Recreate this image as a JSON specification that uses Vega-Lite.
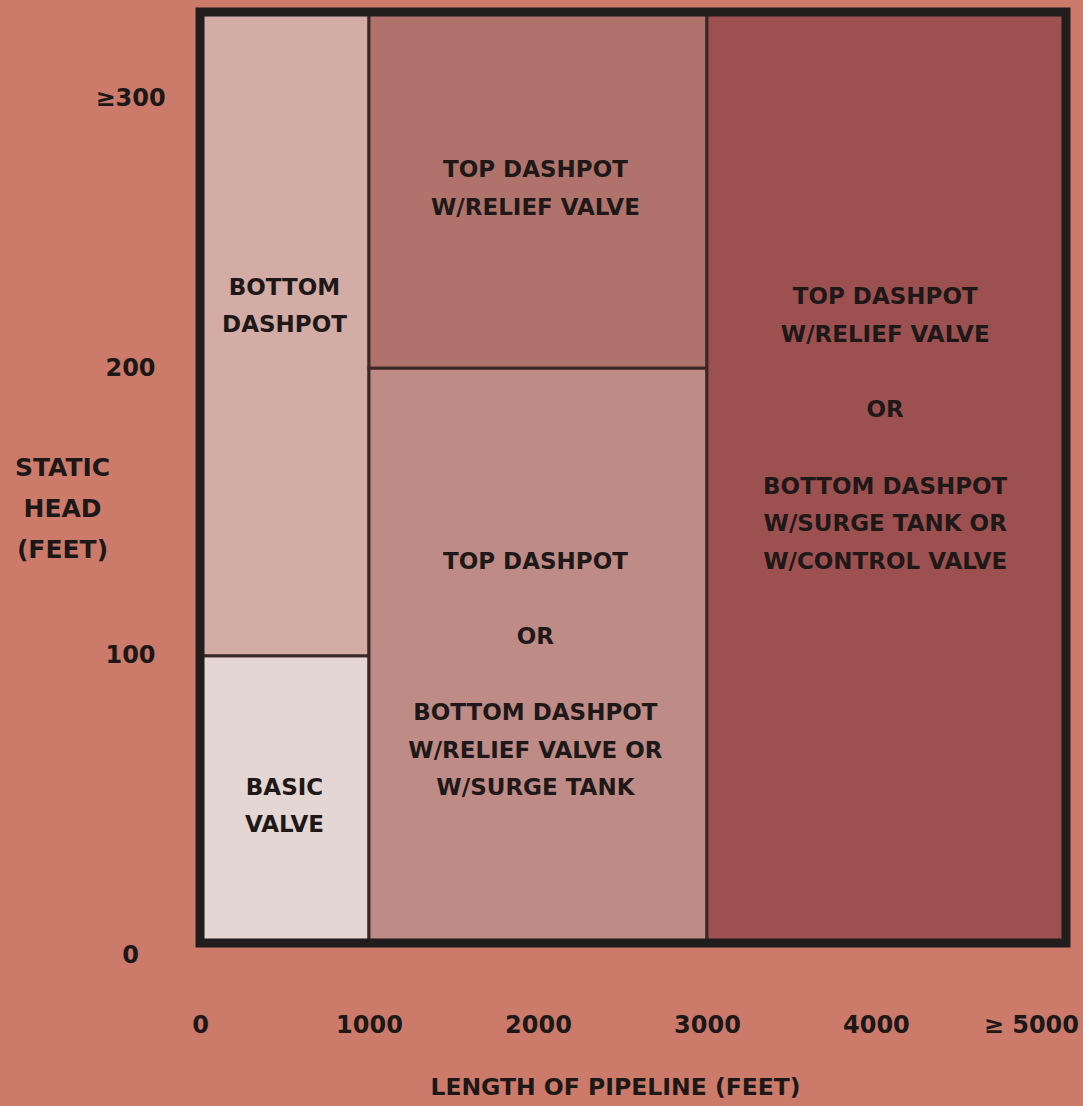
{
  "$schema": "https://vega.github.io/schema/vega-lite/v6.json",
  "width": 866,
  "height": 931,
  "autosize": "none",
  "padding": {"left": 200, "top": 12, "right": 17, "bottom": 163},
  "background": "#cc7a6a",
  "config": {
    "view": {"stroke": null},
    "font": "DejaVu Sans",
    "axis": {
      "domain": false, "ticks": false, "tickSize": 0, "grid": false,
      "labelFont": "DejaVu Sans", "labelFontWeight": "bold", "labelFontSize": 24, "labelColor": "#1c1818",
      "titleFont": "DejaVu Sans", "titleFontWeight": "bold", "titleColor": "#1c1818"
    }
  },
  "datasets": {
    "regions": [
      {"region": "Basic valve", "x": 0, "x2": 1000, "y": 0, "y2": 100},
      {"region": "Bottom dashpot", "x": 0, "x2": 1000, "y": 100, "y2": 324},
      {"region": "Top dashpot w/relief valve", "x": 1000, "x2": 3000, "y": 200, "y2": 324},
      {"region": "Top dashpot or bottom dashpot w/relief valve or surge tank", "x": 1000, "x2": 3000, "y": 0, "y2": 200},
      {"region": "Top dashpot w/relief valve or bottom dashpot w/surge tank or control valve", "x": 3000, "x2": 5125, "y": 0, "y2": 324}
    ],
    "labels": [
      {"lx": 500, "ly": 228, "lines": ["BOTTOM", "DASHPOT"]},
      {"lx": 500, "ly": 54, "lines": ["BASIC", "VALVE"]},
      {"lx": 1985, "ly": 269, "lines": ["TOP DASHPOT", "W/RELIEF VALVE"]},
      {"lx": 1985, "ly": 132.6, "lines": ["TOP DASHPOT"]},
      {"lx": 1985, "ly": 106.5, "lines": ["OR"]},
      {"lx": 1985, "ly": 80, "lines": ["BOTTOM DASHPOT", "W/RELIEF VALVE OR", "W/SURGE TANK"]},
      {"lx": 4055, "ly": 224.8, "lines": ["TOP DASHPOT", "W/RELIEF VALVE"]},
      {"lx": 4055, "ly": 185.5, "lines": ["OR"]},
      {"lx": 4055, "ly": 158.7, "lines": ["BOTTOM DASHPOT", "W/SURGE TANK OR", "W/CONTROL VALVE"]}
    ],
    "frame": [{"x": 0, "x2": 5125, "y": 0, "y2": 324}]
  },
  "layer": [
    {
      "data": {"name": "regions"},
      "mark": {"type": "rect", "stroke": "#3a2826", "strokeWidth": 3},
      "encoding": {
        "x": {
          "field": "x", "type": "quantitative",
          "scale": {"domain": [0, 5125], "nice": false, "zero": false},
          "axis": {
            "values": [0, 1000, 2000, 3000, 4000, 5000],
            "format": "d",
            "labelExpr": "datum.value == 5000 ? '≥ 5000' : datum.label",
            "labelAlign": "center",
            "labelBaseline": "middle",
            "labelPadding": 82,
            "labelFlush": false,
            "labelOverlap": false,
            "labelOffset": {"condition": {"test": "datum.value == 5000", "value": -14}, "value": 0},
            "title": "LENGTH OF PIPELINE (FEET)",
            "titleFontSize": 23.5,
            "titleX": 415,
            "titleY": 144,
            "titleAlign": "center",
            "titleBaseline": "middle"
          }
        },
        "x2": {"field": "x2"},
        "y": {
          "field": "y", "type": "quantitative",
          "scale": {"domain": [0, 324], "nice": false, "zero": false},
          "axis": {
            "values": [0, 100, 200, 300],
            "format": "d",
            "labelExpr": "datum.value == 300 ? '≥300' : datum.label",
            "labelAlign": "center",
            "labelBaseline": "middle",
            "labelPadding": 70,
            "labelFlush": false,
            "labelOverlap": false,
            "labelOffset": {"condition": [{"test": "datum.value == 300", "value": 18}, {"test": "datum.value == 0", "value": 12}], "value": 0},
            "title": ["STATIC", "HEAD", "(FEET)"],
            "titleFontSize": 25,
            "titleAngle": 0,
            "titleAlign": "center",
            "titleBaseline": "middle",
            "titleLineHeight": 41,
            "titleX": -138,
            "titleY": 455
          }
        },
        "y2": {"field": "y2"},
        "color": {
          "field": "region", "type": "nominal", "legend": null,
          "scale": {
            "domain": [
              "Basic valve",
              "Bottom dashpot",
              "Top dashpot w/relief valve",
              "Top dashpot or bottom dashpot w/relief valve or surge tank",
              "Top dashpot w/relief valve or bottom dashpot w/surge tank or control valve"
            ],
            "range": ["#e4d6d2", "#d3aca5", "#b0736b", "#bf8b86", "#9c5050"]
          }
        }
      }
    },
    {
      "data": {"name": "frame"},
      "mark": {"type": "rect", "filled": false, "fill": null, "stroke": "#211d1d", "strokeWidth": 9},
      "encoding": {
        "x": {"field": "x", "type": "quantitative"},
        "x2": {"field": "x2"},
        "y": {"field": "y", "type": "quantitative"},
        "y2": {"field": "y2"}
      }
    },
    {
      "data": {"name": "labels"},
      "mark": {
        "type": "text", "font": "DejaVu Sans", "fontWeight": "bold", "fontSize": 23,
        "color": "#1e1818", "align": "center", "baseline": "middle", "lineHeight": 37.5
      },
      "encoding": {
        "x": {"field": "lx", "type": "quantitative"},
        "y": {"field": "ly", "type": "quantitative"},
        "text": {"field": "lines"}
      }
    }
  ]
}
